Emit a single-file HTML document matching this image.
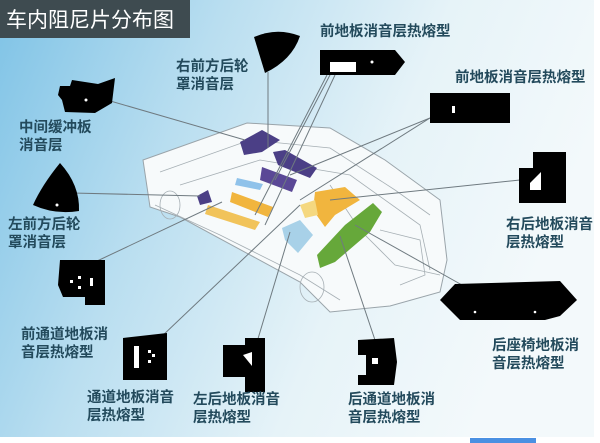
<!DOCTYPE html>
<html><head><meta charset="utf-8"><style>
html,body{margin:0;padding:0;width:600px;height:443px;overflow:hidden;background:#fff}
svg{display:block}
text{font-family:"Liberation Sans","Noto Sans CJK SC",sans-serif;font-weight:bold;fill:#234a5c;font-size:14.5px}
</style></head><body>
<svg width="600" height="443" viewBox="0 0 600 443">
<defs>
<linearGradient id="bg" x1="0" y1="0" x2="1" y2="0.3">
<stop offset="0" stop-color="#7fc3e6"/><stop offset="0.35" stop-color="#b9def0"/><stop offset="0.7" stop-color="#e6f3f8"/><stop offset="1" stop-color="#f3f9fb"/>
</linearGradient>
</defs>
<rect x="0" y="0" width="594" height="437" fill="url(#bg)"/>
<rect x="0" y="0" width="190" height="38" fill="#3e4b50"/>
<text x="6" y="27" style="font-size:21px;fill:#fff;font-weight:normal">车内阻尼片分布图</text>
<path d="M143,160 L247,123 L330,128 L385,160 L440,200 L447,260 L440,292 L390,306 L330,312 L300,282 L180,217 L150,207 Z" fill="#f7fafb" stroke="#9aa4aa" stroke-width="1"/>
<g fill="none" stroke="#a6afb4" stroke-width="0.8">
<path d="M160,172 L250,140 L330,148 L395,190 L430,215"/>
<path d="M180,185 L260,160 L350,175 L420,225 L430,270"/>
<path d="M155,205 L220,235 L300,275 L340,300"/>
<path d="M330,185 L360,230 L395,265 L440,275"/>
<ellipse cx="170" cy="205" rx="10" ry="14"/>
<ellipse cx="312" cy="287" rx="12" ry="15"/>
<path d="M380,230 L420,240 L425,275 L400,285"/>
</g>
<g>
<path d="M240,142 L262,130 L280,140 L262,152 L244,155 Z" fill="#4b3f86"/>
<path d="M273,152 L285,150 L317,168 L310,178 L278,165 Z" fill="#4b3f86"/>
<path d="M262,167 L297,180 L292,192 L260,180 Z" fill="#5a4896"/>
<path d="M197,196 L208,190 L212,202 L200,205 Z" fill="#4b3f86"/>
<path d="M237,178 L263,184 L260,190 L235,185 Z" fill="#8fc2ea"/>
<path d="M232,192 L273,207 L268,217 L230,202 Z" fill="#f1b53e"/>
<path d="M208,205 L260,222 L255,230 L205,214 Z" fill="#f1c35a"/>
<path d="M315,192 L345,187 L360,200 L335,215 L325,227 L313,210 Z" fill="#f1b53e"/>
<path d="M282,228 L300,220 L313,235 L298,253 L285,240 Z" fill="#a8d1e8"/>
<path d="M317,255 L345,225 L373,203 L382,212 L370,232 L335,262 L320,268 Z" fill="#66a83a"/>
<path d="M300,205 L315,200 L318,215 L305,218 Z" fill="#f5d880"/>
</g>
<g stroke="#6f7a80" stroke-width="1" fill="none">
<line x1="100" y1="98" x2="245" y2="140"/>
<line x1="72" y1="193" x2="200" y2="196"/>
<line x1="95" y1="262" x2="222" y2="202"/>
<line x1="268" y1="72" x2="268" y2="148"/>
<line x1="327" y1="75" x2="255" y2="215"/>
<line x1="335" y1="75" x2="265" y2="225"/>
<line x1="330" y1="75" x2="275" y2="180"/>
<line x1="430" y1="118" x2="290" y2="175"/>
<line x1="430" y1="118" x2="300" y2="200"/>
<line x1="520" y1="180" x2="330" y2="200"/>
<line x1="160" y1="338" x2="300" y2="205"/>
<line x1="257" y1="342" x2="290" y2="232"/>
<line x1="375" y1="340" x2="340" y2="236"/>
<line x1="462" y1="285" x2="355" y2="225"/>
</g>
<g fill="#000">
<path d="M254,37 Q277,27 300,36 Q292,60 265,73 Z"/>
<path d="M320,50 L395,50 L405,62 L395,75 L320,75 Z"/>
<path d="M430,93 L510,93 L510,123 L430,123 Z"/>
<path d="M60,86 L70,86 L72,80 L98,84 L115,78 L112,103 L95,113 L65,112 L62,100 L58,95 Z"/>
<path d="M60,163 Q42,185 33,205 Q55,215 79,211 Q80,185 60,163 Z"/>
<path d="M519,168 L533,168 L533,152 L566,152 L566,203 L519,203 Z"/>
<path d="M60,260 L105,260 L105,305 L85,305 L85,297 L63,297 L58,285 Z"/>
<path d="M440,300 L455,284 L560,281 L577,300 L560,316 L545,320 L460,320 Z"/>
<path d="M123,338 L167,333 L167,380 L123,380 Z"/>
<path d="M223,345 L245,345 L245,338 L265,338 L265,392 L245,392 L245,377 L223,377 Z"/>
<path d="M358,340 L394,338 L397,362 L394,385 L358,385 L358,375 L366,375 L366,355 L358,355 Z"/>
</g>
<g fill="#fff">
<rect x="330" y="62" width="26" height="10"/><circle cx="372" cy="62" r="1.5"/>
<rect x="452" y="106" width="3" height="7"/>
<circle cx="86" cy="100" r="1.5"/><circle cx="57" cy="205" r="1.5"/>
<path d="M530,183 L541,172 L541,190 L530,190 Z"/>
<rect x="134" y="346" width="5" height="22"/>
<rect x="148" y="350" width="3" height="3"/><rect x="148" y="360" width="3" height="3"/><rect x="152" y="354" width="3" height="3"/>
<path d="M243,355 L252,352 L252,366 Z"/>
<rect x="372" y="358" width="6" height="6"/>
<rect x="70" y="280" width="3" height="3"/><rect x="78" y="276" width="3" height="3"/><rect x="78" y="286" width="3" height="3"/><rect x="90" y="278" width="3" height="8"/>
<circle cx="475" cy="312" r="1.3"/><circle cx="535" cy="312" r="1.3"/>
</g>
<text x="320" y="36">前地板消音层热熔型</text>
<text x="455" y="82">前地板消音层热熔型</text>
<text x="176" y="71">右前方后轮</text><text x="176" y="89">罩消音层</text>
<text x="19" y="132">中间缓冲板</text><text x="19" y="150">消音层</text>
<text x="8" y="229">左前方后轮</text><text x="8" y="247">罩消音层</text>
<text x="506" y="229">右后地板消音</text><text x="506" y="247">层热熔型</text>
<text x="21" y="339">前通道地板消</text><text x="21" y="357">音层热熔型</text>
<text x="492" y="350">后座椅地板消</text><text x="492" y="368">音层热熔型</text>
<text x="87" y="402">通道地板消音</text><text x="87" y="420">层热熔型</text>
<text x="193" y="404">左后地板消音</text><text x="193" y="422">层热熔型</text>
<text x="348" y="404">后通道地板消</text><text x="348" y="422">音层热熔型</text>
<rect x="470" y="438" width="66" height="5" fill="#4a90e2"/>
</svg>
</body></html>
